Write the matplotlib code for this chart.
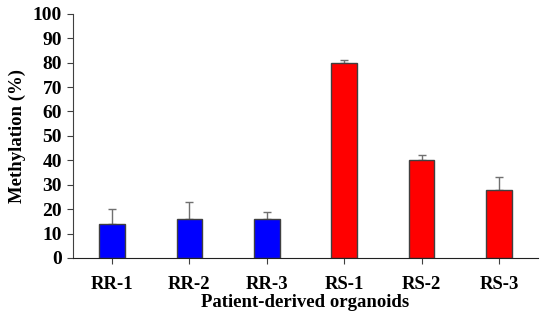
import numpy as np
import matplotlib.pyplot as plt

labels = ['RR-1', 'RR-2', 'RR-3', 'RS-1', 'RS-2', 'RS-3']
values = [14, 16, 16, 80, 40, 28]
errors = [6, 7, 3, 1, 2, 5]
colors = ['#0000ff', '#0000ff', '#0000ff', '#ff0000', '#ff0000', '#ff0000']

plt.rcParams['font.family'] = 'Liberation Serif'
plt.rcParams['font.weight'] = 'bold'

fig = plt.figure(figsize=(5.5, 3.22), dpi=100)
ax = fig.add_axes([0.133, 0.199, 0.845, 0.758])

x = np.arange(len(labels))
ax.bar(x, values, width=0.33, color=colors, edgecolor='#404040', linewidth=1.0, zorder=2)
ax.errorbar(x, values, yerr=[np.zeros(len(errors)), errors], fmt='none',
            ecolor='#707070', elinewidth=1.0, capsize=3, capthick=1.0, zorder=1)

ax.set_xlim(-0.5, 5.5)
ax.set_ylim(0, 100)
ax.set_yticks(range(0, 101, 10))
ax.set_xticks(x)
ax.set_xticklabels(labels)
ax.spines['top'].set_visible(False)
ax.spines['right'].set_visible(False)
ax.spines['left'].set_color('#404040')
ax.spines['bottom'].set_color('#202020')
ax.tick_params(axis='y', labelsize=14, length=4, color='#404040', pad=4)
ax.tick_params(axis='x', labelsize=13.5, length=4, color='#404040', pad=9)
ax.set_ylabel('Methylation (%)', fontsize=13.5, fontweight='bold', labelpad=5)
ax.set_xlabel('Patient-derived organoids', fontsize=13.5, fontweight='bold', labelpad=1)

fig.savefig('out.png', dpi=100)
